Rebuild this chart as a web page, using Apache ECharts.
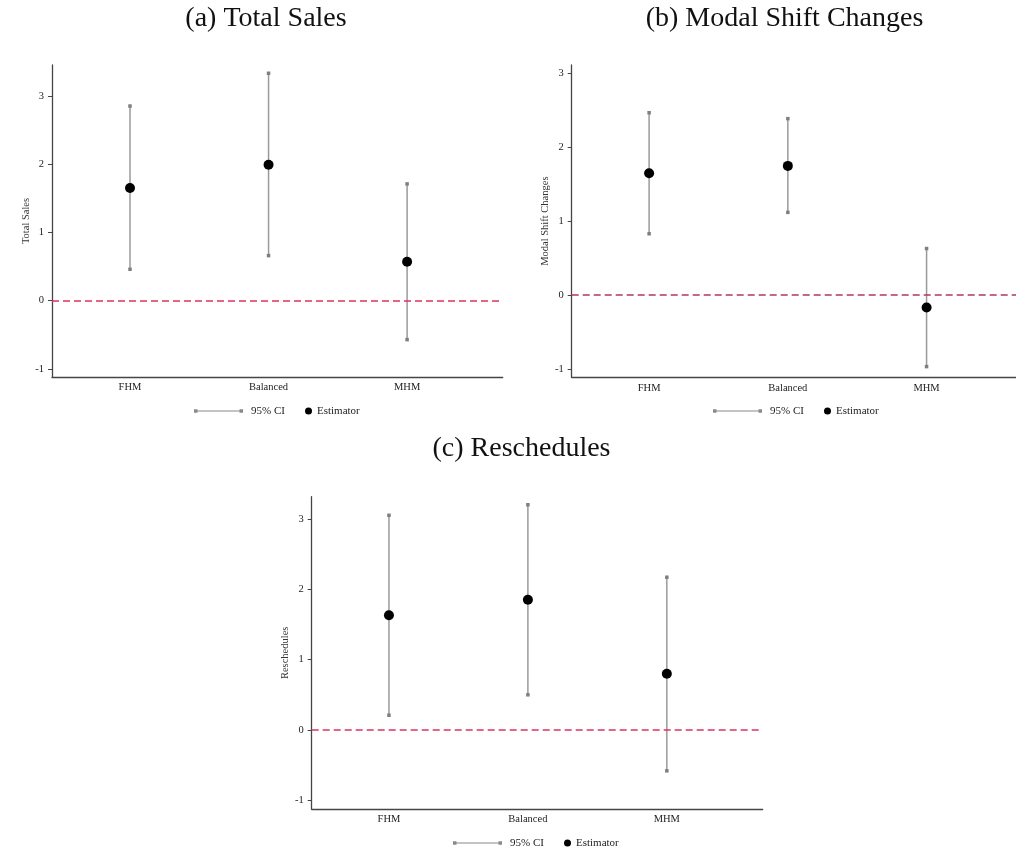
<!DOCTYPE html>
<html>
<head>
<meta charset="utf-8">
<title>Treatment effects by schedule type</title>
<script src="https://cdn.jsdelivr.net/npm/echarts@6/dist/echarts.min.js"></script>
<style>
  html, body { margin: 0; padding: 0; background: #ffffff; }
  #chart { width: 1016px; height: 855px; }
</style>
</head>
<body>
<div id="chart"></div>
<script>
// Categories along the x axis of every panel
const categories = ['FHM', 'Balanced', 'MHM'];
const yTicks = [-1, 0, 1, 2, 3];

// (a) Total Sales: point estimates and 95% CI bounds
const salesEst = [1.65, 1.99, 0.57];
const salesLow = [0.46, 0.66, -0.57];
const salesHigh = [2.85, 3.33, 1.71];

// (b) Modal Shift Changes
const modalEst = [1.65, 1.75, -0.17];
const modalLow = [0.83, 1.12, -0.97];
const modalHigh = [2.47, 2.39, 0.63];

// (c) Reschedules
const reschEst = [1.63, 1.85, 0.80];
const reschLow = [0.21, 0.50, -0.58];
const reschHigh = [3.05, 3.20, 2.17];

const SERIF = "'Liberation Serif', 'Times New Roman', serif";
const AXIS_COLOR = '#454545';
const CI_COLOR = '#9a9a9a';
const CAP_COLOR = '#7f7f7f';

const panels = [
  { title: '(a) Total Sales', yName: 'Total Sales', est: salesEst, low: salesLow, high: salesHigh,
    titleX: 266, titleY: 5,
    grid: { left: 52, top: 65, width: 450.7, height: 312 },
    xMin: 0.437, xMax: 3.69, yMin: -1.117, yMax: 3.451,
    zero: '#dc3560', legendX: 194, legendY: 405 },
  { title: '(b) Modal Shift Changes', yName: 'Modal Shift Changes', est: modalEst, low: modalLow, high: modalHigh,
    titleX: 784.5, titleY: 5,
    grid: { left: 571.7, top: 65, width: 450.6, height: 312.3 },
    xMin: 0.442, xMax: 3.69, yMin: -1.115, yMax: 3.117,
    zero: '#b5375a', legendX: 713, legendY: 405 },
  { title: '(c) Reschedules', yName: 'Reschedules', est: reschEst, low: reschLow, high: reschHigh,
    titleX: 521.5, titleY: 435,
    grid: { left: 311.7, top: 496.7, width: 451, height: 312.3 },
    xMin: 0.444, xMax: 3.69, yMin: -1.122, yMax: 3.314,
    zero: '#dc3560', legendX: 453, legendY: 837 }
];

// Vertical interval with small square caps at both ends
function renderInterval(params, api) {
  const x = api.value(0);
  const top = api.coord([x, api.value(2)]);
  const bottom = api.coord([x, api.value(1)]);
  const cap = 3.5;
  return {
    type: 'group',
    children: [
      { type: 'line', shape: { x1: top[0], y1: top[1], x2: bottom[0], y2: bottom[1] },
        style: { stroke: CI_COLOR, lineWidth: 1.5 } },
      { type: 'rect', shape: { x: top[0] - cap / 2, y: top[1] - cap / 2, width: cap, height: cap },
        style: { fill: CAP_COLOR } },
      { type: 'rect', shape: { x: bottom[0] - cap / 2, y: bottom[1] - cap / 2, width: cap, height: cap },
        style: { fill: CAP_COLOR } }
    ]
  };
}

const CI_ICON = 'path://M0,0h3.5v3.5h-3.5zM3.5,1.25h42v1h-42zM45.5,0h3.5v3.5h-3.5z';

const option = {
  backgroundColor: '#ffffff',
  animation: false,
  title: [],
  grid: [],
  xAxis: [],
  yAxis: [],
  legend: [],
  series: []
};

panels.forEach((p, i) => {
  option.title.push({
    text: p.title, left: p.titleX, top: p.titleY, textAlign: 'center', padding: 0,
    textStyle: { fontFamily: SERIF, fontSize: 28, fontWeight: 'normal', color: '#111111' }
  });

  option.grid.push(Object.assign({ containLabel: false, outerBoundsMode: 'none' }, p.grid));

  option.xAxis.push({
    type: 'value', gridIndex: i, min: p.xMin, max: p.xMax,
    splitLine: { show: false },
    axisLine: { onZero: false, lineStyle: { color: AXIS_COLOR, width: 1.3 } },
    axisTick: { show: false },
    axisLabel: {
      customValues: categories.map((c, k) => k + 1),
      formatter: v => categories[Math.round(v) - 1] || '',
      margin: 5, fontFamily: SERIF, fontSize: 10.5, color: '#222222'
    }
  });

  option.yAxis.push({
    type: 'value', gridIndex: i, min: p.yMin, max: p.yMax,
    name: p.yName, nameLocation: 'middle', nameGap: 17, nameRotate: 90,
    nameTextStyle: { fontFamily: SERIF, fontSize: 10.5, color: '#333333' },
    splitLine: { show: false },
    axisLine: { show: true, onZero: false, lineStyle: { color: AXIS_COLOR, width: 1.3 } },
    axisTick: { show: true, customValues: yTicks, length: 4, lineStyle: { color: AXIS_COLOR, width: 1 } },
    axisLabel: { customValues: yTicks, margin: 8, fontFamily: SERIF, fontSize: 10.5, color: '#222222' }
  });

  option.legend.push({
    data: [{ name: '95% CI', icon: CI_ICON }],
    left: p.legendX, top: p.legendY, padding: 0,
    itemWidth: 49, itemHeight: 3.5, itemGap: 0, selectedMode: false,
    textStyle: { fontFamily: SERIF, fontSize: 11, color: '#222222', lineHeight: 12, padding: [0, 0, 0, 3] }
  });
  option.legend.push({
    data: [{ name: 'Estimator', icon: 'circle' }],
    left: p.legendX + 111, top: p.legendY, padding: 0,
    itemWidth: 7, itemHeight: 7, itemGap: 0, selectedMode: false,
    itemStyle: { opacity: 1 },
    textStyle: { fontFamily: SERIF, fontSize: 11, color: '#222222', lineHeight: 12 }
  });

  option.series.push({
    name: '95% CI', type: 'custom', xAxisIndex: i, yAxisIndex: i,
    renderItem: renderInterval,
    itemStyle: { color: '#8a8a8a' },
    encode: { x: 0, y: [1, 2] },
    data: categories.map((c, k) => [k + 1, p.low[k], p.high[k]]),
    z: 2
  });

  option.series.push({
    name: 'Estimator', type: 'scatter', xAxisIndex: i, yAxisIndex: i,
    symbol: 'circle', symbolSize: 10,
    itemStyle: { color: '#000000', opacity: 1 },
    data: categories.map((c, k) => [k + 1, p.est[k]]),
    z: 4,
    markLine: {
      silent: true, symbol: 'none', animation: false,
      label: { show: false },
      lineStyle: { color: p.zero, type: [7, 4], width: 1.5 },
      data: [{ yAxis: 0 }]
    }
  });
});

const chart = echarts.init(document.getElementById('chart'), null, { renderer: 'canvas' });
chart.setOption(option);
</script>
</body>
</html>
